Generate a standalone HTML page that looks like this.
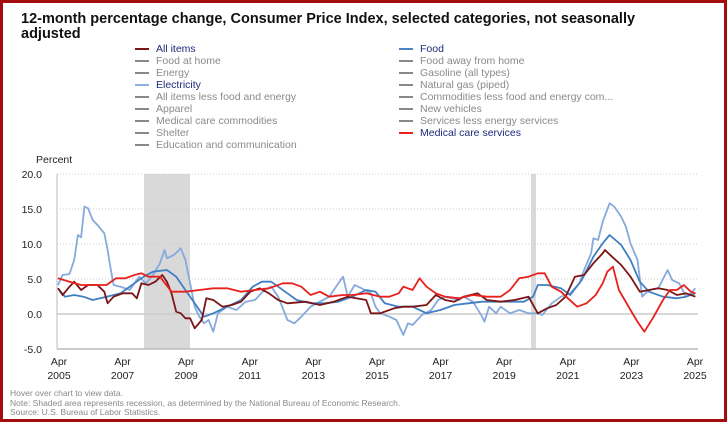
<!DOCTYPE html>
<html><head><meta charset="utf-8"><style>
html,body{margin:0;padding:0}
body{width:727px;height:422px;overflow:hidden;background:#fff;font-family:"Liberation Sans",sans-serif;position:relative}
.frame{position:absolute;left:0;top:0;width:721px;height:416px;border:3px solid #a30d10}
.title{position:absolute;left:21px;top:12px;font-size:14.5px;font-weight:bold;color:#111;line-height:14.5px;width:640px}
.lg{position:absolute;font-size:10.5px;color:#8a8a8a;white-space:nowrap}
.lg i{display:inline-block;width:14px;height:2px;background:#888;vertical-align:middle;margin-right:7px}
.lg.a{color:#1e2a78}
.foot{position:absolute;left:10px;font-size:8.5px;color:#888}
</style></head><body>
<div class="frame"></div>
<div class="title">12-month percentage change, Consumer Price Index, selected categories, not seasonally adjusted</div>
<div class="lg a" style="left:135px;top:43px"><i style="background:#7b1416"></i>All items</div>
<div class="lg" style="left:135px;top:55px"><i></i>Food at home</div>
<div class="lg" style="left:135px;top:67px"><i></i>Energy</div>
<div class="lg a" style="left:135px;top:79px"><i style="background:#8fb2e0"></i>Electricity</div>
<div class="lg" style="left:135px;top:91px"><i></i>All items less food and energy</div>
<div class="lg" style="left:135px;top:103px"><i></i>Apparel</div>
<div class="lg" style="left:135px;top:115px"><i></i>Medical care commodities</div>
<div class="lg" style="left:135px;top:127px"><i></i>Shelter</div>
<div class="lg" style="left:135px;top:139px"><i></i>Education and communication</div>
<div class="lg a" style="left:399px;top:43px"><i style="background:#4a86c5"></i>Food</div>
<div class="lg" style="left:399px;top:55px"><i></i>Food away from home</div>
<div class="lg" style="left:399px;top:67px"><i></i>Gasoline (all types)</div>
<div class="lg" style="left:399px;top:79px"><i></i>Natural gas (piped)</div>
<div class="lg" style="left:399px;top:91px"><i></i>Commodities less food and energy com...</div>
<div class="lg" style="left:399px;top:103px"><i></i>New vehicles</div>
<div class="lg" style="left:399px;top:115px"><i></i>Services less energy services</div>
<div class="lg a" style="left:399px;top:127px"><i style="background:#e8201c"></i>Medical care services</div>
<svg id="s" width="727" height="422" style="position:absolute;left:0;top:0" font-family="Liberation Sans, sans-serif"></svg>
<div class="foot" style="top:388px">Hover over chart to view data.</div>
<div class="foot" style="top:398px">Note: Shaded area represents recession, as determined by the National Bureau of Economic Research.</div>
<div class="foot" style="top:407px">Source: U.S. Bureau of Labor Statistics.</div>
<script>
var s=document.getElementById('s'),h='';
h+='<text x="36" y="163" font-size="10.5" fill="#222">Percent</text>';
h+='<rect x="144" y="174" width="46" height="175" fill="#d9d9d9"/><rect x="531" y="174" width="5" height="175" fill="#d9d9d9"/>';
var lab=['20.0','15.0','10.0','5.0','0.0','-5.0'];
for(var i=0;i<6;i++){var y=174+i*35;
 h+='<text x="42" y="'+(y+4)+'" font-size="10.5" text-anchor="end" fill="#222">'+lab[i]+'</text>';
 if(i<5&&i!=4)h+='<line x1="57" x2="698" y1="'+y+'" y2="'+y+'" stroke="#ccc" stroke-dasharray="1,2"/>';}
h+='<line x1="57" x2="698" y1="314" y2="314" stroke="#ccc" stroke-width="1.5"/>';
h+='<line x1="57" x2="698" y1="349" y2="349" stroke="#bbb" stroke-width="1.5"/><line x1="57" x2="57" y1="174" y2="349" stroke="#bbb"/>';
for(var k=0;k<11;k++){var x=59+k*63.6;
 h+='<text x="'+x+'" y="365" font-size="10.5" text-anchor="middle" fill="#222">Apr</text><text x="'+x+'" y="379" font-size="10.5" text-anchor="middle" fill="#222">'+(2005+2*k)+'</text>';}
function P(a,c){var d='';for(var i=0;i<a.length;i+=2)d+=(i?'L':'M')+(a[i]/2.157).toFixed(1)+','+(150+a[i+1]/3).toFixed(1);h+='<path d="'+d+'" fill="none" stroke="'+c+'" stroke-width="1.8" stroke-linejoin="round"/>';}
P([125,405,135,375,150,372,160,330,168,255,175,262,182,170,190,175,200,210,210,225,225,250,232,300,238,350,245,405,260,410,280,420,300,380,315,400,330,375,345,340,355,300,360,325,375,315,390,295,400,330,410,400,420,470,430,500,440,520,450,510,460,545,470,490,490,470,510,480,530,455,550,450,570,420,585,410,600,440,620,510,635,520,650,500,670,470,690,455,710,440,730,400,740,380,750,440,765,405,780,415,800,430,810,470,820,490,840,500,855,510,870,555,880,520,890,525,910,495,930,480,945,450,960,440,990,450,1000,440,1020,455,1040,500,1045,515,1055,470,1070,490,1080,470,1100,490,1120,480,1140,490,1160,490,1170,495,1190,460,1210,440,1230,430,1250,400,1260,360,1275,310,1280,265,1290,270,1300,215,1315,160,1325,170,1340,200,1350,230,1360,280,1375,330,1385,440,1400,420,1420,415,1440,360,1450,390,1465,400,1480,440,1490,430,1500,415],'#85aadb');
P([125,415,140,440,160,435,180,440,200,450,230,440,260,430,290,400,310,380,330,365,360,360,380,380,400,420,420,460,440,500,460,490,490,470,520,450,545,410,565,395,585,395,600,410,620,430,640,450,670,460,700,460,730,455,760,440,790,420,810,425,830,460,860,470,890,470,920,490,950,480,980,465,1010,460,1040,455,1070,455,1100,455,1130,455,1150,440,1160,405,1180,405,1210,415,1230,435,1255,390,1280,320,1300,280,1315,255,1340,285,1360,330,1380,395,1400,425,1430,440,1460,445,1480,440,1500,430],'#3f7fc2');
P([125,415,135,435,150,410,160,395,175,420,190,405,210,405,225,425,232,460,245,440,265,430,285,430,295,445,305,400,320,405,335,395,350,375,360,395,370,430,380,485,390,490,400,505,410,505,420,535,435,510,445,445,460,450,480,470,500,465,520,455,540,425,560,415,580,430,600,450,620,460,660,455,690,465,720,455,750,440,790,450,800,490,820,490,850,475,870,470,890,470,920,465,940,435,960,450,980,455,1000,440,1030,430,1050,450,1080,455,1110,450,1140,440,1160,490,1180,475,1200,465,1220,440,1240,380,1260,375,1280,340,1300,310,1305,300,1320,320,1340,345,1360,380,1380,425,1400,420,1420,415,1440,420,1460,435,1480,430,1500,440],'#7b1416');
P([125,385,150,395,175,405,200,405,230,405,250,385,270,385,290,375,305,370,320,380,345,380,370,425,400,425,430,420,460,415,490,415,520,425,550,420,580,415,610,400,630,400,650,410,670,435,690,425,710,440,740,435,760,435,790,430,820,440,840,440,860,430,870,410,890,420,905,385,920,410,940,430,960,440,990,445,1020,435,1050,440,1080,440,1100,420,1120,385,1140,380,1160,370,1175,370,1190,410,1210,425,1225,445,1245,470,1265,460,1285,435,1300,400,1310,365,1322,350,1335,420,1360,480,1375,515,1390,545,1410,500,1430,450,1445,420,1460,420,1475,405,1490,425,1500,430],'#e8201c');
s.innerHTML=h;
</script>
</body></html>
